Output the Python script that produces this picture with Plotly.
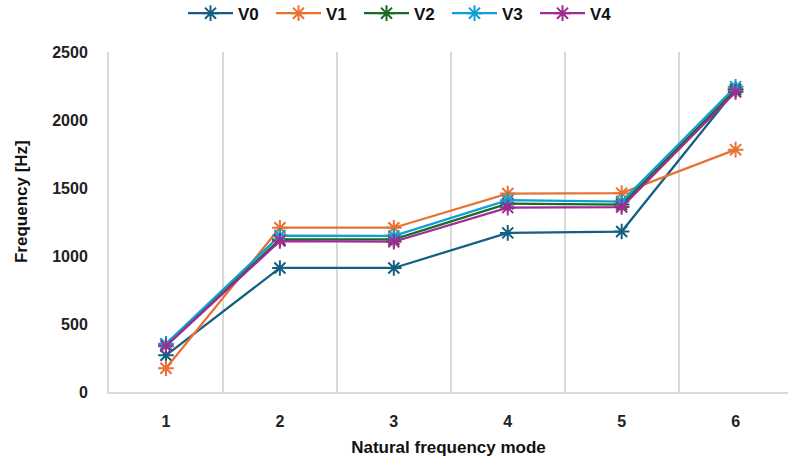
import plotly.graph_objects as go

modes = [1, 2, 3, 4, 5, 6]
series_names = ["V0", "V1", "V2", "V3", "V4"]
V0 = [270, 912, 912, 1170, 1180, 2224]
V1 = [175, 1208, 1208, 1459, 1462, 1782]
V2 = [350, 1122, 1122, 1385, 1378, 2224]
V3 = [355, 1150, 1148, 1410, 1400, 2245]
V4 = [337, 1110, 1105, 1356, 1360, 2206]
values = [V0, V1, V2, V3, V4]
colors = ["#156082", "#E97132", "#196B24", "#0F9ED5", "#A02B93"]

FONT = "Liberation Sans"
tickf = dict(family=FONT, size=16, color="#222222", weight="bold")
titlef = dict(family=FONT, size=17, color="#111111", weight="bold")

fig = go.Figure()
for name, vals, col in zip(series_names, values, colors):
    fig.add_trace(go.Scatter(
        x=modes, y=vals, name=name, mode="lines+markers",
        line=dict(color=col, width=2.25),
        marker=dict(symbol="asterisk-open", size=13, color=col,
                    line=dict(color=col, width=2)),
    ))

fig.update_layout(
    width=788, height=462,
    margin=dict(l=109, r=0, t=52, b=70, autoexpand=False),
    paper_bgcolor="white", plot_bgcolor="white",
    font=dict(family=FONT, size=16, color="#222222"),
    legend=dict(orientation="h", x=0.433, xanchor="center", y=1.06, yanchor="bottom",
                font=dict(family=FONT, size=17, color="#111111", weight="bold"),
                itemwidth=45, entrywidth=28, entrywidthmode="pixels", tracegroupgap=0),
    showlegend=True,
    annotations=[dict(text="Frequency [Hz]", textangle=-90, xref="paper", yref="paper",
                      x=-0.128, y=0.559, xanchor="center", yanchor="middle",
                      showarrow=False, font=titlef)],
)
fig.update_xaxes(
    range=[0.5, 6.46], tickmode="array", tickvals=modes,
    ticktext=[str(m) for m in modes], showgrid=False,
    minor=dict(tick0=0.5, dtick=1, showgrid=True, gridcolor="#D9D9D9", gridwidth=2, ticks=""),
    showline=True, linecolor="#D9D9D9", linewidth=2, zeroline=False,
    tickfont=tickf,
    title=dict(text="Natural frequency mode", font=titlef, standoff=12),
    ticks="", ticklabelstandoff=14,
)
fig.update_yaxes(
    range=[0, 2500], tickvals=[0, 500, 1000, 1500, 2000, 2500],
    showgrid=False, showline=True, linecolor="#D9D9D9", linewidth=2, zeroline=False,
    tickfont=tickf,
    ticks="", ticklabelstandoff=16,
)

fig.write_html("out.html")
